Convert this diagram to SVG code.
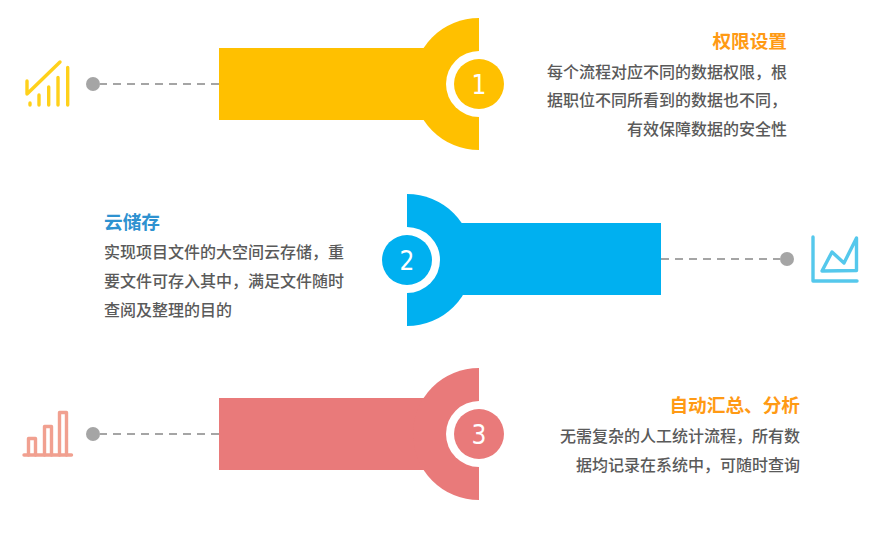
<svg xmlns="http://www.w3.org/2000/svg" width="894" height="535" viewBox="0 0 894 535">
<style>
.b{font-family:"Noto Sans CJK SC","Liberation Sans",sans-serif;font-size:16px;font-weight:500;fill:#5a5a5a}
.t{font-family:"Noto Sans CJK SC","Liberation Sans",sans-serif;font-size:18.67px;font-weight:700}
.n{font-family:"DejaVu Sans","Liberation Sans",sans-serif;font-stretch:condensed;font-size:26px;fill:#fff;text-anchor:middle}
.r{text-anchor:end}
.d{stroke:#a5a5a5;stroke-width:2;stroke-dasharray:8 6;fill:none}
.dot{fill:#a5a5a5}
.w{fill:#fff}
.i{fill:none;stroke-width:3.4;stroke-linecap:round;stroke-linejoin:round}
</style>
<rect width="894" height="535" fill="#fff"/>
<g id="connectors">
<line class="d" x1="219" y1="84" x2="100" y2="84"/>
<line class="d" x1="661" y1="259" x2="780" y2="259"/>
<line class="d" x1="219" y1="434" x2="100" y2="434"/>
</g>
<g id="node-1">
<rect x="219" y="48" width="210" height="72" fill="#ffc000"/>
<path d="M479 18A66 66 0 0 0 479 150Z" fill="#ffc000"/>
<circle class="w" cx="479" cy="84" r="33"/>
<circle cx="479" cy="84" r="25" fill="#ffc000"/>
<text class="n" x="479" y="94">1</text>
<circle class="dot" cx="93" cy="84" r="7"/>
<g class="i" stroke="#ffd11a">
<path d="M27 81V94L60 62"/>
<path d="M30 103V105M39 95V105M48.7 87V105M58 77.500V105M67.700 67.500V105"/>
</g>
<text class="t r" x="787" y="48" fill="#ff9a14">权限设置</text>
<text class="b r" x="787" y="78">每个流程对应不同的数据权限，根</text>
<text class="b r" x="787" y="106">据职位不同所看到的数据也不同，</text>
<text class="b r" x="787" y="135">有效保障数据的安全性</text>
</g>
<g id="node-2">
<rect x="457" y="223" width="204" height="72" fill="#00b0f0"/>
<path d="M407 194A66 66 0 0 1 407 326Z" fill="#00b0f0"/>
<circle class="w" cx="407" cy="260" r="33"/>
<circle cx="407" cy="260" r="25" fill="#00b0f0"/>
<text class="n" x="407" y="270">2</text>
<circle class="dot" cx="787" cy="259" r="7"/>
<g class="i" stroke="#55c8ec">
<path d="M813 237V281H857"/>
<path d="M822 271L832 252L844 263L856.500 238V270.500Z"/>
</g>
<text class="t" x="104" y="229" fill="#2e92d0">云储存</text>
<text class="b" x="104" y="258">实现项目文件的大空间云存储，重</text>
<text class="b" x="104" y="287">要文件可存入其中，满足文件随时</text>
<text class="b" x="104" y="316">查阅及整理的目的</text>
</g>
<g id="node-3">
<rect x="219" y="398" width="210" height="72" fill="#e97a7a"/>
<path d="M479 368A66 66 0 0 0 479 500Z" fill="#e97a7a"/>
<circle class="w" cx="479" cy="434" r="33"/>
<circle cx="479" cy="434" r="25" fill="#e97a7a"/>
<text class="n" x="479" y="444">3</text>
<circle class="dot" cx="93" cy="434" r="7"/>
<g class="i" stroke="#f1a090">
<path d="M24 455H71.500"/>
<path d="M28.500 455V438.500H35.500V455M44.500 455V426.500H51.500V455M59.500 455V412.500H66.500V455"/>
</g>
<text class="t r" x="800" y="412" fill="#ff9a14">自动汇总、分析</text>
<text class="b r" x="800" y="442">无需复杂的人工统计流程，所有数</text>
<text class="b r" x="800" y="471">据均记录在系统中，可随时查询</text>
</g>
</svg>
